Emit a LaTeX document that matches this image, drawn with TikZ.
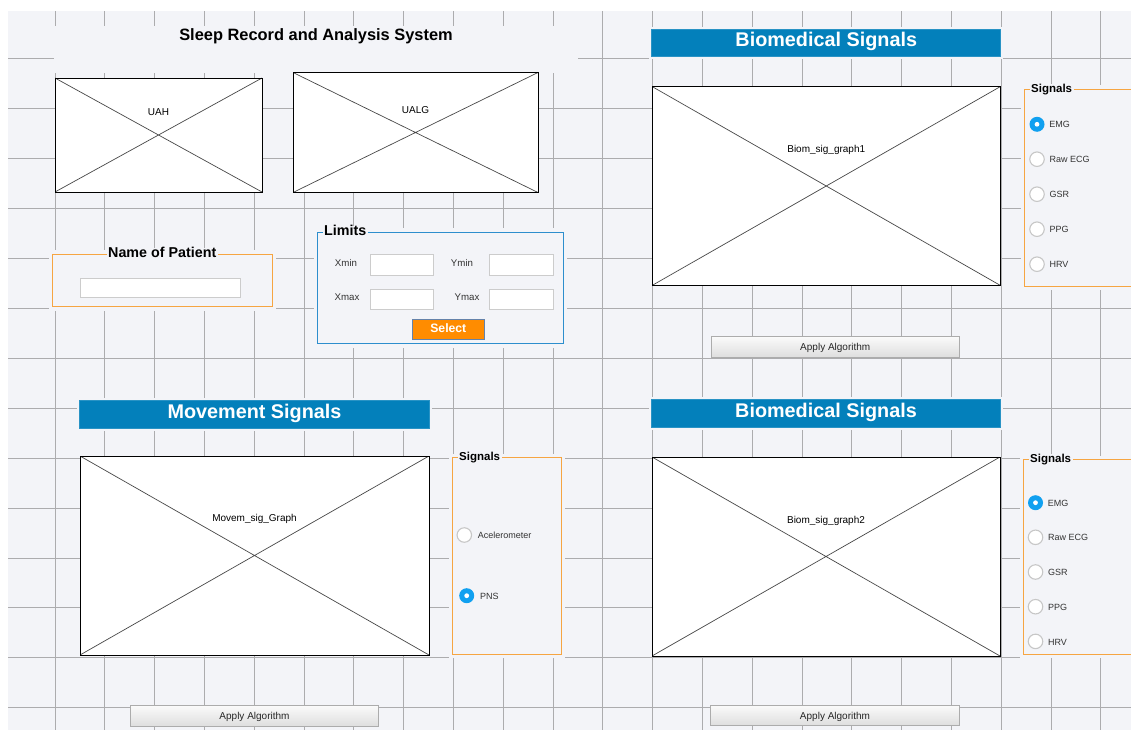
\documentclass[tikz,border=0pt]{standalone}
\usepackage{fontspec}
\setmainfont{Liberation Sans}
\usepackage{tikz}
\usetikzlibrary{positioning}
\definecolor{fondo}{RGB}{243,244,248}
\definecolor{rejilla}{RGB}{172,172,174}
\definecolor{azulban}{RGB}{3,128,187}
\definecolor{azulmarco}{RGB}{45,142,205}
\definecolor{naranja}{RGB}{246,165,66}
\definecolor{naranjab}{RGB}{255,140,0}
\definecolor{azulradio}{RGB}{16,160,240}
\definecolor{grisborde}{RGB}{172,172,172}
\definecolor{grisselec}{RGB}{100,130,170}
\tikzset{%
	rejilla/.style  = {draw=rejilla, line width=1pt}, % grid
	tapa/.style     = {fill=fondo, inner sep=0pt}, % hides grid
	grafico/.style  = {draw, rectangle, line width=.9pt, fill=white, inner sep=0pt,
		path picture={\draw[black!72, line width=.7pt] (path picture bounding box.north west) -- (path picture bounding box.south east)
			(path picture bounding box.south west) -- (path picture bounding box.north east);}}, % Axes
	banner/.style   = {fill=azulban, draw=azulban!85!white, line width=.8pt, preaction={draw=fondo, line width=5pt},
		text=white, font=\fontsize{19.8}{22}\selectfont\bfseries, text height=.72em, text depth=0pt,
		minimum width=349pt, minimum height=27.5pt, inner sep=0pt},
	marco/.style    = {rectangle, line width=1pt, fill=fondo, preaction={draw=fondo, line width=8pt}, inner sep=0pt}, % panel
	tpanel/.style   = {fill=fondo, inner sep=1.5pt, font=\fontsize{14.3}{16}\selectfont\bfseries, text height=.72em, text depth=0pt},
	tsig/.style     = {tpanel, font=\fontsize{11.5}{13}\selectfont\bfseries},
	titulo/.style   = {font=\fontsize{16.4}{18}\selectfont\bfseries, inner sep=0pt, text height=.72em, text depth=0pt},
	etiqg/.style    = {font=\fontsize{10}{11}\selectfont, inner sep=0pt, text height=.72em, text depth=0pt},
	etiq/.style     = {font=\fontsize{9.7}{11}\selectfont, text=black!80, inner sep=0pt, text height=.72em, text depth=0pt},
	etiqr/.style    = {font=\fontsize{9}{10}\selectfont, text=black!80, inner sep=0pt, xshift=4.5pt, text height=.72em, text depth=0pt},
	campo/.style    = {fill=white, draw=black!20, line width=.8pt, inner sep=0pt, minimum width=63.6pt, minimum height=20.5pt}, % edit box
	boton/.style    = {draw=grisborde, line width=.8pt, top color=black!2, bottom color=black!13,
		minimum width=248.5pt, minimum height=20.5pt, inner sep=0pt,
		font=\fontsize{10}{11}\selectfont, text=black!85, text height=.72em, text depth=0pt},
	botonsel/.style = {fill=naranjab, draw=grisselec, line width=1pt, text=white, font=\fontsize{12.2}{13}\selectfont\bfseries,
		minimum width=71.4pt, minimum height=20pt, inner sep=0pt, text height=.72em, text depth=0pt},
	radio/.style    = {circle, draw=black!22, line width=1.1pt, fill=white, minimum size=14.5pt, inner sep=0pt},
	radiosel/.style = {circle, fill=azulradio, minimum size=15pt, inner sep=0pt,
		path picture={\fill[white] (path picture bounding box.center) circle (2.4pt);}},
}
\begin{document}
\begin{tikzpicture}[x=1pt,y=-1pt,node distance=19.4pt]
	\useasboundingbox (0,0) rectangle (1131,730);
	\clip (0,0) rectangle (1131,730);
	\fill[fondo] (8,11) rectangle (1131,730);
	\foreach \k in {0,...,21} \draw[rejilla] ({55+49.8*\k},11) -- ({55+49.8*\k},730);
	\foreach \k in {0,...,13} \draw[rejilla] (8,{59+49.9*\k}) -- (1131,{59+49.9*\k});

	% header and logos
	\node[tapa, minimum width=524pt, minimum height=47pt, anchor=north west] (cab) at (54,26) {};
	\node[titulo] (tit) at (316,36.5) {Sleep Record and Analysis System};
	\node[grafico, minimum width=207pt, minimum height=114pt, label={[etiqg,yshift=23pt]center:UAH}] (uah) at (158.5,135) {};
	\node[grafico, minimum width=245pt, minimum height=120pt, label={[etiqg,yshift=22.5pt]center:UALG}] (ualg) at (415.5,132.5) {};

	% patient and limits
	\node[marco, draw=naranja, minimum width=219.5pt, minimum height=52.5pt, label={[tpanel,anchor=center]north:Name of Patient}] (pac) at (162.25,280.25) {};
	\node[campo, minimum width=160pt, minimum height=19pt] (nom) at (160,287.5) {};
	\node[marco, draw=azulmarco, minimum width=245.3pt, minimum height=111.6pt, label={[tpanel,anchor=west,xshift=5.3pt]north west:Limits}] (lim) at (440.35,287.8) {};
	\node[campo] (fxmin) at (401.8,264.75) {};
	\node[campo, right=55.4pt of fxmin] (fymin) {};
	\node[campo, below=13.5pt of fxmin] (fxmax) {};
	\node[campo, below=13.5pt of fymin] (fymax) {};
	\node[etiq] (xmin) at (346,263) {Xmin};
	\node[etiq] (ymin) at (462,263) {Ymin};
	\node[etiq] (xmax) at (347,296.4) {Xmax};
	\node[etiq] (ymax) at (467,296.4) {Ymax};
	\node[botonsel] (sel) at (448.3,329) {Select};

	% biomedical signals 1
	\node[grafico, minimum width=348.5pt, minimum height=199pt, label={[etiqg,yshift=37pt]center:Biom\_sig\_graph1}] (bio1) at (826.25,186) {};
	\node[banner, above=29pt of bio1] (tbio1) {Biomedical Signals};
	\node[boton, below=50.5pt of bio1, xshift=9pt] (alg1) {Apply Algorithm};
	\node[marco, draw=naranja, minimum width=125pt, minimum height=197pt, anchor=north west, label={[tsig,anchor=west,xshift=5.5pt]north west:Signals}] (sig1) at (1024,88.7) {};
	\node[radiosel, label={[etiqr]right:EMG}] (emg1) at (1037,124.3) {};
	\node[radio, below=of emg1, label={[etiqr]right:Raw ECG}] (ecg1) {};
	\node[radio, below=of ecg1, label={[etiqr]right:GSR}] (gsr1) {};
	\node[radio, below=of gsr1, label={[etiqr]right:PPG}] (ppg1) {};
	\node[radio, below=of ppg1, label={[etiqr]right:HRV}] (hrv1) {};

	% movement signals
	\node[grafico, minimum width=349pt, minimum height=199pt, label={[etiqg,yshift=37.5pt]center:Movem\_sig\_Graph}] (mov) at (254.5,555.5) {};
	\node[banner, minimum width=350pt, above=27pt of mov] (tmov) {Movement Signals};
	\node[boton, below=50pt of mov] (alg3) {Apply Algorithm};
	\node[marco, draw=naranja, minimum width=108.7pt, minimum height=196.5pt, anchor=north west, label={[tsig,anchor=west,xshift=5.5pt]north west:Signals}] (sig3) at (452,457) {};
	\node[radio, label={[etiqr,xshift=1pt]right:Acelerometer}] (acel) at (464.3,535) {};
	\node[radiosel, label={[etiqr,xshift=1pt]right:PNS}] (pns) at (466.7,595.7) {};

	% biomedical signals 2
	\node[grafico, minimum width=348pt, minimum height=199pt, label={[etiqg,yshift=36.5pt]center:Biom\_sig\_graph2}] (bio2) at (826,556.5) {};
	\node[banner, above=29pt of bio2] (tbio2) {Biomedical Signals};
	\node[boton, below=48.5pt of bio2, xshift=9pt] (alg2) {Apply Algorithm};
	\node[marco, draw=naranja, minimum width=125pt, minimum height=194.5pt, anchor=north west, label={[tsig,anchor=west,xshift=5.5pt]north west:Signals}] (sig2) at (1023,459) {};
	\node[radiosel, label={[etiqr]right:EMG}] (emg2) at (1035.5,502.7) {};
	\node[radio, below=19.1pt of emg2, label={[etiqr]right:Raw ECG}] (ecg2) {};
	\node[radio, below=19.1pt of ecg2, label={[etiqr]right:GSR}] (gsr2) {};
	\node[radio, below=19.1pt of gsr2, label={[etiqr]right:PPG}] (ppg2) {};
	\node[radio, below=19.1pt of ppg2, label={[etiqr]right:HRV}] (hrv2) {};
\end{tikzpicture}
\end{document}
